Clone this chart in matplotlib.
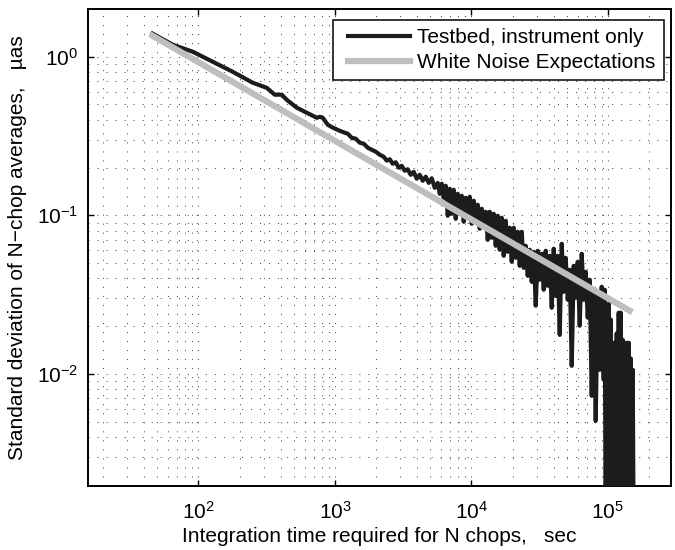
import matplotlib
matplotlib.use("Agg")
import matplotlib.pyplot as plt
from matplotlib.ticker import LogLocator
from matplotlib.legend_handler import HandlerLine2D

plt.rcParams['font.family'] = ['Liberation Sans', 'DejaVu Sans']
plt.rcParams['mathtext.fontset'] = 'custom'
plt.rcParams['mathtext.rm'] = 'Liberation Sans'

# integration time (s) and std dev (uas) of the testbed N-chop averages
t_sec = [46, 64.8, 90.8, 127, 178, 250, 316, 362, 408, 443, 525, 622, 736, 774, 814, 886,
         964, 1085, 1180, 1241, 1327, 1420, 1519, 1626, 1739, 1861, 1991, 2128,
         2278, 2396, 2521, 2651, 2789, 2934, 3085, 3246, 3414, 3591, 3778, 3974, 4180,
         4398, 4626, 4866, 5119, 5384, 5664,
         5860, 6061, 6266, 6482, 6707, 6934, 7173, 7419, 7674, 7935, 8208, 8491, 8782,
         9083, 9396, 9716, 10050, 10395, 10752, 11122, 11502, 11898, 12304, 12727, 13163,
         13616, 14082, 14566, 15066, 15584, 16117, 16672, 17243, 17836, 18446, 19081,
         19736, 20414, 21113, 21840, 22588, 23365, 24169, 24996, 25856, 26742, 27662,
         28609, 29594, 30607, 31659, 32743, 33870, 35030, 36234, 37475, 38764, 40091,
         41471, 42891, 44366, 45885, 47463, 49088, 50776, 52514, 54321, 56187, 58109,
         60109, 62166, 64305, 66505, 68791, 71146, 73592, 76110, 78730, 81424, 84224,
         87106, 90100, 93183,
         94780, 96386, 98000, 99650, 101370, 103090, 104840, 106620, 108440, 110310,
         112180, 114090, 116050, 118020, 120030, 122070, 124170, 126270, 128420, 130620,
         132840, 135100, 137390, 139750, 142130, 144540, 146990, 149510, 152060, 154500]
sigma = [1.40, 1.19, 1.075, 0.93, 0.804, 0.685, 0.637, 0.576, 0.576, 0.535, 0.477, 0.443,
         0.412, 0.418, 0.412, 0.372, 0.357, 0.341, 0.3315, 0.327, 0.308, 0.304, 0.287,
         0.2826, 0.2666, 0.259, 0.2516, 0.241,
         0.234, 0.221, 0.2255, 0.2113, 0.216, 0.1994, 0.205, 0.191, 0.195, 0.180, 0.188,
         0.170, 0.180, 0.165, 0.175, 0.160, 0.171, 0.149, 0.160,
         0.1366, 0.158, 0.129, 0.1535, 0.0993, 0.147, 0.1022, 0.1449, 0.0950, 0.1366,
         0.1052, 0.1327, 0.0910, 0.129, 0.0964, 0.1309, 0.0884, 0.1235, 0.0910, 0.1165,
         0.0822, 0.1099, 0.0858, 0.1052, 0.0700, 0.1052, 0.0721, 0.1022, 0.0642, 0.0993,
         0.0606, 0.0964, 0.0555, 0.0923, 0.0588, 0.0834, 0.0509, 0.0834, 0.0539, 0.0787,
         0.0480, 0.0787, 0.0466, 0.0642, 0.0415, 0.0606, 0.0380, 0.0588, 0.0269, 0.0597,
         0.0392, 0.0572, 0.0339, 0.0597, 0.0359, 0.0555, 0.0261, 0.0615, 0.0310, 0.0555,
         0.0176, 0.0661, 0.0329, 0.0539, 0.0293, 0.0453, 0.01123, 0.0480, 0.0302, 0.0509,
         0.0201, 0.0572, 0.0293, 0.0440, 0.0226, 0.0392, 0.00726, 0.0339, 0.00505, 0.0329,
         0.0106, 0.0354, 0.00917,
         0.0339, 0.0008, 0.025, 0.0008, 0.0277, 0.0009, 0.022, 0.0018, 0.0157, 0.0008,
         0.0157, 0.0009, 0.018, 0.0008, 0.0243, 0.0009, 0.0243, 0.0008, 0.0164, 0.0009,
         0.0157, 0.0008, 0.0157, 0.0009, 0.0157, 0.0008, 0.0125, 0.0009, 0.0106, 0.0008]

# white noise expectation (straight line in log-log, end points)
wn_t = [46, 144500]
wn_sigma = [1.357, 0.025]

fig = plt.figure(figsize=(6.75, 5.5), dpi=100)
ax = fig.add_axes([88/675, 64/550, 583/675, 477/550])

ax.plot(t_sec, sigma, color='#1c1c1c', lw=3.0, label='Testbed, instrument only', zorder=3)
ax.plot(wn_t, wn_sigma, color='#bebebe', lw=4.5, label='White Noise Expectations', zorder=4)

ax.set_xscale('log')
ax.set_yscale('log')
ax.set_xlim(15.5, 2.9e5)
ax.set_ylim(0.00196, 2.0)

ax.xaxis.set_major_locator(LogLocator(base=10, numticks=10))
ax.yaxis.set_major_locator(LogLocator(base=10, numticks=10))
ax.xaxis.set_minor_locator(LogLocator(base=10, subs=range(2, 10), numticks=20))
ax.yaxis.set_minor_locator(LogLocator(base=10, subs=range(2, 10), numticks=20))

ax.grid(True, which='both', color='k', lw=0.5, linestyle=(0, (1.5, 11.5)))
ax.tick_params(which='major', direction='in', length=4.5, width=1.0, top=True, right=True,
               labelsize=15)
ax.tick_params(axis='x', which='major', pad=11)
ax.tick_params(axis='y', which='major', pad=7)
ax.tick_params(which='minor', length=0)
for s in ax.spines.values():
    s.set_linewidth(1.4)

ax.set_xlabel('Integration time required for N chops,   sec', fontsize=15, labelpad=3)
ax.set_ylabel('Standard deviation of N\u2212chop averages,   \u00b5as', fontsize=15, labelpad=7)

hl = HandlerLine2D(xpad=0.33)
leg = ax.legend(loc='upper right', bbox_to_anchor=(0.988, 0.977), borderaxespad=0,
                fontsize=15, handlelength=3.3, handletextpad=0.35, labelspacing=0.28,
                borderpad=0.4, fancybox=False, framealpha=1,
                handler_map={matplotlib.lines.Line2D: hl})
leg.get_frame().set_edgecolor('k')
leg.get_frame().set_linewidth(1.1)

fig.savefig('out.png', dpi=100)
